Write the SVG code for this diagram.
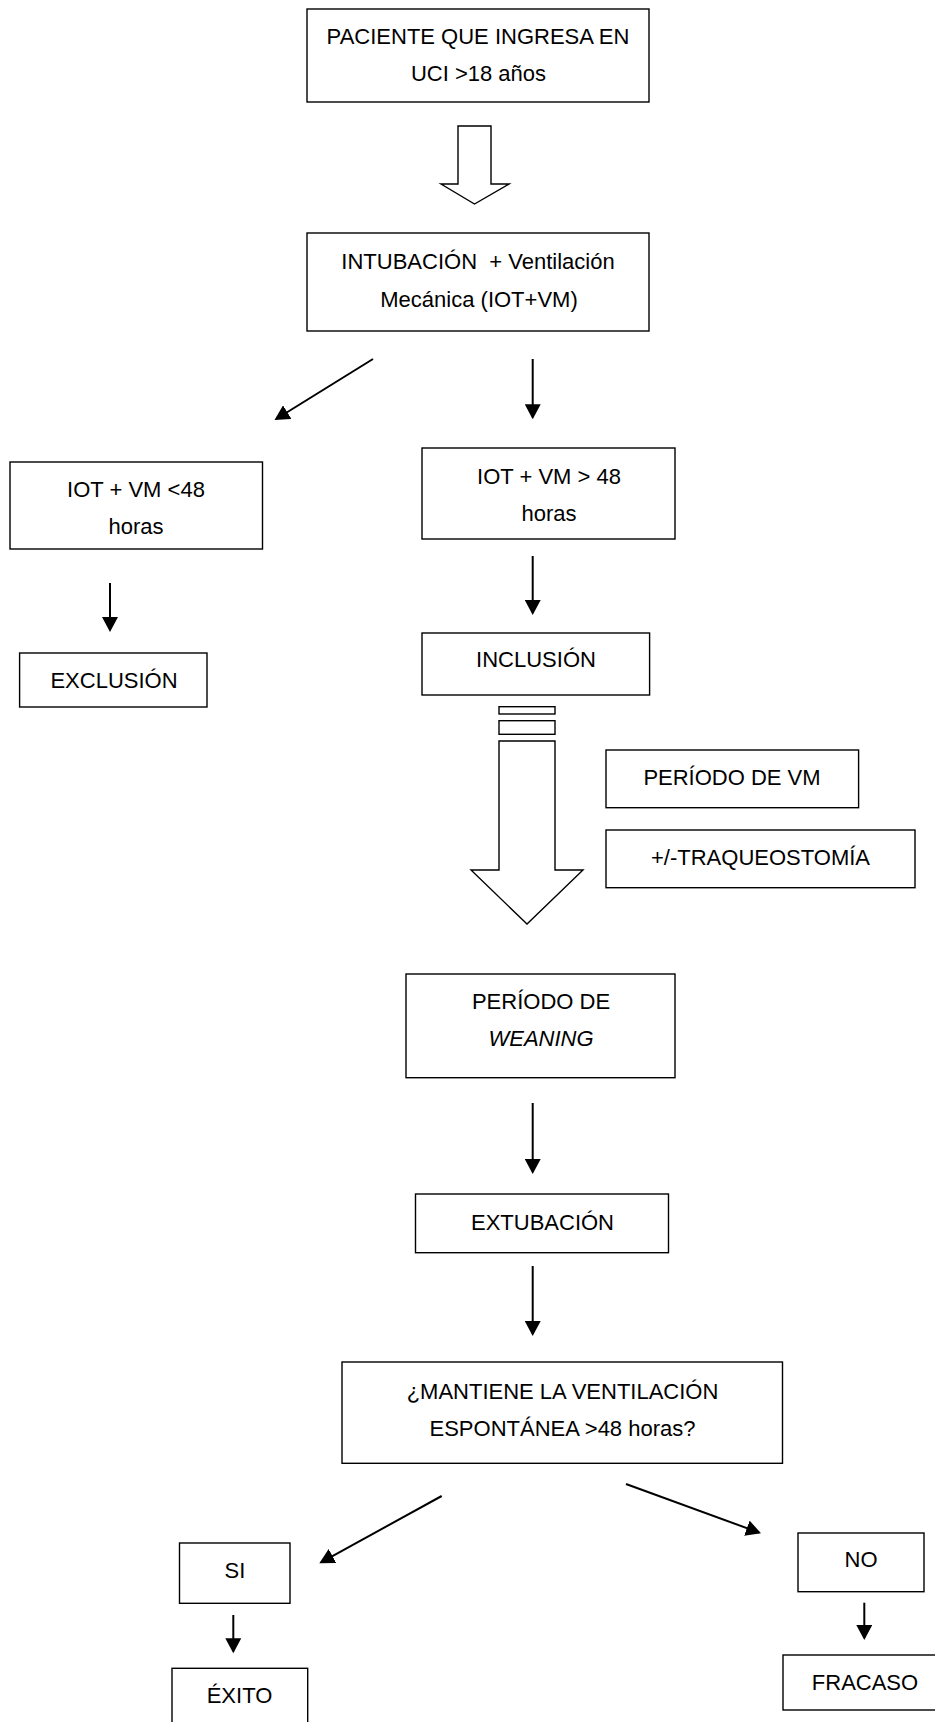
<svg xmlns="http://www.w3.org/2000/svg" width="935" height="1722" viewBox="0 0 935 1722">
<style>
.box{fill:#fff;stroke:#000;stroke-width:1.4}
.t{font-family:"Liberation Sans",Arial,sans-serif;font-size:22px;fill:#000;text-anchor:middle}
.c{stroke:#000;stroke-width:2;fill:none}
.h{fill:#fff;stroke:#000;stroke-width:1.4;stroke-linejoin:miter}
</style>
<defs>
<marker id="ah" markerUnits="userSpaceOnUse" markerWidth="16" markerHeight="16" refX="13" refY="8" orient="auto">
<path d="M0,0 L15,8 L0,16 Z" fill="#000"/>
</marker>
</defs>
<rect width="935" height="1722" fill="#fff"/>
<g id="connectors">
<polygon class="h" points="458,126 491,126 491,184 509,184 474.5,204 441,184 458,184"/>
<line class="c" x1="373" y1="359" x2="276.2" y2="419" marker-end="url(#ah)"/>
<line class="c" x1="532.7" y1="359" x2="532.7" y2="417.3" marker-end="url(#ah)"/>
<line class="c" x1="110" y1="583" x2="110" y2="630" marker-end="url(#ah)"/>
<line class="c" x1="532.7" y1="556" x2="532.7" y2="613" marker-end="url(#ah)"/>
<rect class="h" x="499" y="706.7" width="56" height="7.3"/>
<rect class="h" x="499" y="720.7" width="56" height="13.6"/>
<polygon class="h" points="499,741 555,741 555,870 583,870 527,924 471,870 499,870"/>
<line class="c" x1="532.7" y1="1103" x2="532.7" y2="1172" marker-end="url(#ah)"/>
<line class="c" x1="532.7" y1="1266" x2="532.7" y2="1334" marker-end="url(#ah)"/>
<line class="c" x1="441.7" y1="1496" x2="321.1" y2="1562.3" marker-end="url(#ah)"/>
<line class="c" x1="626" y1="1484" x2="759.1" y2="1532.6" marker-end="url(#ah)"/>
<line class="c" x1="233.3" y1="1615" x2="233.3" y2="1651.3" marker-end="url(#ah)"/>
<line class="c" x1="864.3" y1="1602.7" x2="864.3" y2="1638" marker-end="url(#ah)"/>
</g>
<g id="n1"><rect class="box" x="307" y="9" width="342" height="93"/>
<text class="t" x="478" y="44">PACIENTE QUE INGRESA EN</text>
<text class="t" x="478.5" y="81">UCI &gt;18 años</text></g>
<g id="n2"><rect class="box" x="307" y="233" width="342" height="98"/>
<text class="t" x="478" y="269" style="white-space:pre">INTUBACIÓN  + Ventilación</text>
<text class="t" x="479" y="307">Mecánica (IOT+VM)</text></g>
<g id="n3"><rect class="box" x="10" y="462" width="252.5" height="87"/>
<text class="t" x="136" y="497">IOT + VM &lt;48</text>
<text class="t" x="136" y="534">horas</text></g>
<g id="n4"><rect class="box" x="422" y="448" width="253" height="91"/>
<text class="t" x="549" y="484">IOT + VM &gt; 48</text>
<text class="t" x="549" y="521">horas</text></g>
<g id="n5"><rect class="box" x="19.6" y="653" width="187.4" height="54"/>
<text class="t" x="114" y="688">EXCLUSIÓN</text></g>
<g id="n6"><rect class="box" x="422" y="633" width="227.6" height="62"/>
<text class="t" x="536" y="667">INCLUSIÓN</text></g>
<g id="n7"><rect class="box" x="606" y="750" width="252.6" height="57.7"/>
<text class="t" x="732" y="785">PERÍODO DE VM</text></g>
<g id="n8"><rect class="box" x="606" y="830" width="309" height="57.7"/>
<text class="t" x="760.5" y="865">+/-TRAQUEOSTOMÍA</text></g>
<g id="n9"><rect class="box" x="406" y="974" width="269" height="103.7"/>
<text class="t" x="541" y="1009">PERÍODO DE</text>
<text class="t" x="541" y="1046" font-style="italic">WEANING</text></g>
<g id="n10"><rect class="box" x="415.5" y="1194" width="253" height="58.7"/>
<text class="t" x="542.5" y="1230">EXTUBACIÓN</text></g>
<g id="n11"><rect class="box" x="342" y="1362" width="440.5" height="101.3"/>
<text class="t" x="562.5" y="1399">¿MANTIENE LA VENTILACIÓN</text>
<text class="t" x="562.5" y="1436">ESPONTÁNEA &gt;48 horas?</text></g>
<g id="n12"><rect class="box" x="179.5" y="1543" width="110.5" height="60.3"/>
<text class="t" x="235" y="1578">SI</text></g>
<g id="n13"><rect class="box" x="172" y="1668.3" width="135.7" height="70"/>
<text class="t" x="239.5" y="1703">ÉXITO</text></g>
<g id="n14"><rect class="box" x="798" y="1533" width="126" height="58.7"/>
<text class="t" x="861" y="1567">NO</text></g>
<g id="n15"><rect class="box" x="783" y="1655" width="170" height="55"/>
<text class="t" x="865" y="1690">FRACASO</text></g>
</svg>
